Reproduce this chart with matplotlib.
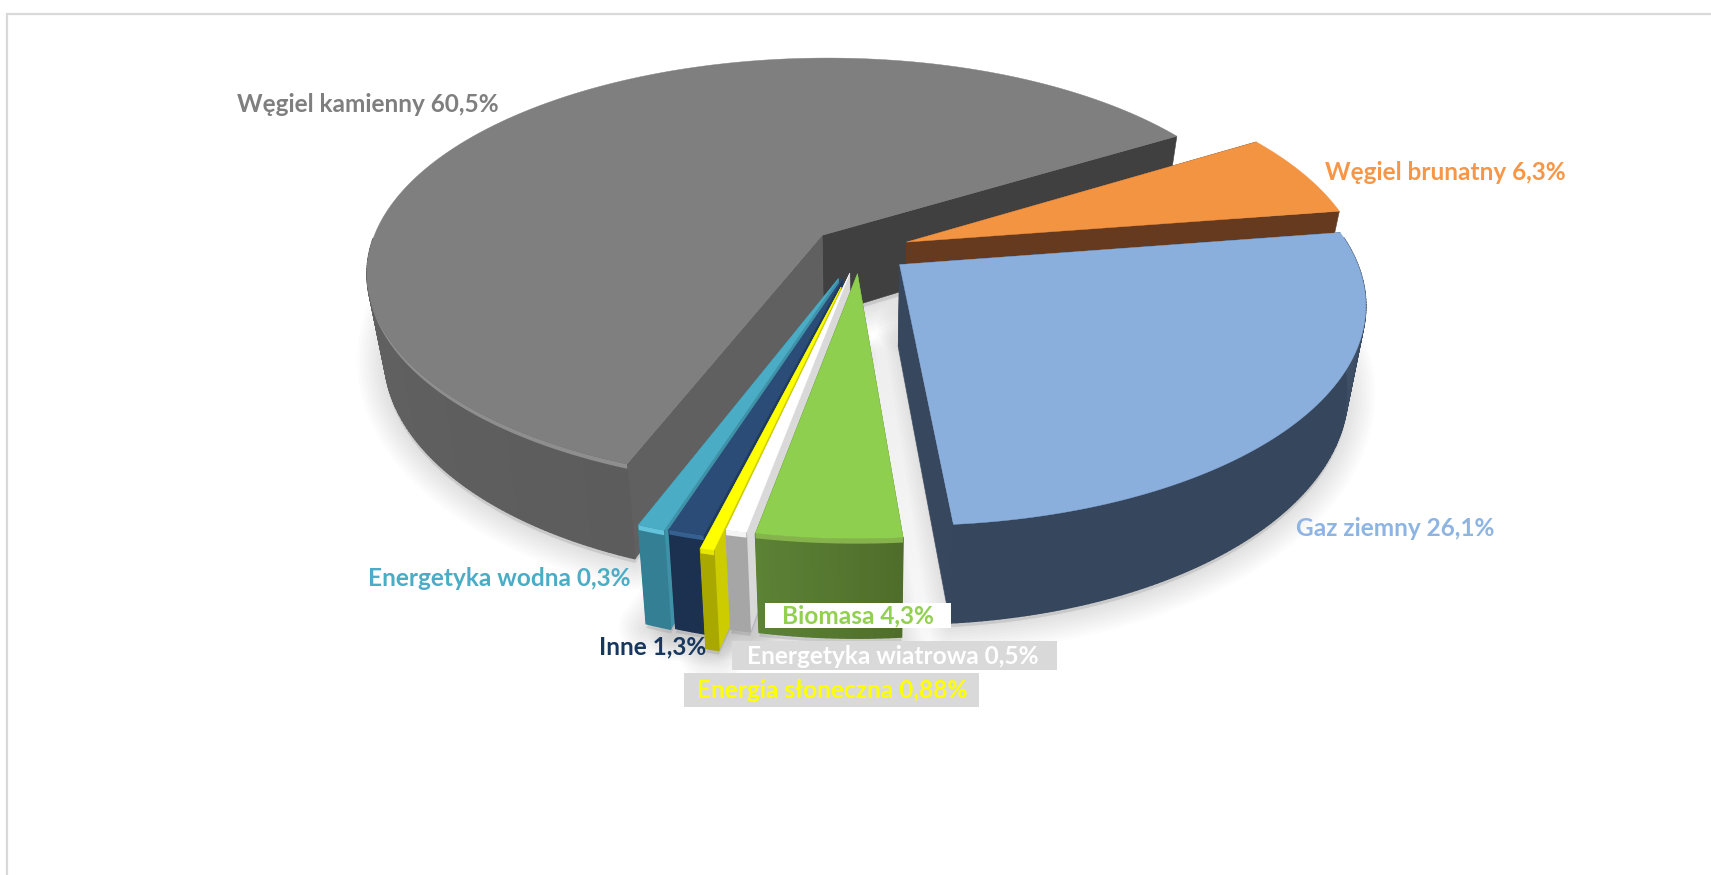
import numpy as np
import matplotlib
matplotlib.use('Agg')
import matplotlib.pyplot as plt
from matplotlib.colors import to_rgb
from matplotlib.patches import Polygon, Rectangle

plt.rcParams['font.family'] = ['Lato', 'DejaVu Sans']

#slices clockwise from the gray one, sizes as drawn (the small labels do not match their slices)
names = ['Węgiel kamienny', 'Węgiel brunatny', 'Gaz ziemny', 'Biomasa',
         'Energetyka wiatrowa', 'Energia słoneczna', 'Inne', 'Energetyka wodna']
label_values = ['60,5%', '6,3%', '26,1%', '4,3%', '0,5%', '0,88%', '1,3%', '0,3%']
shares = [60.5, 6.3, 26.1, 4.25, 0.6, 0.4, 1.05, 0.8]
explode = [0.11, 0.11, 0.11, 0.11, 0.11, 0.175, 0.135, 0.14]

top_colors = ['#7f7f7f', '#f39443', '#8aafdd', '#8fcf50', '#ffffff', '#ffff00', '#2a4c77', '#4aacc5']
text_colors = ['#7f7f7f', '#f79646', '#8db4e2', '#92d050', '#ffffff', '#ffff00', '#17375e', '#4bacc6']
#outer wall colour at the counter clockwise end and at the clockwise end
wall_ccw = ['#5c5c5c', '#663a1e', '#4a5d78', '#4f6d2a', '#a6a6a6', '#a8a800', '#1c304f', '#347f93']
wall_cw = ['#707070', '#663a1e', '#36465c', '#5c8236', '#a6a6a6', '#a8a800', '#1c304f', '#347f93']
#flat cut faces
cut_ccw = ['#606060', '#663a1e', '#37475d', '#5c8236', '#d9d9d9', '#cccc00', '#1f3a5f', '#3e91a6']
cut_cw = ['#404040', '#663a1e', '#37475d', '#5c8236', '#d9d9d9', '#cccc00', '#2f5680', '#3e91a6']
bevel = ['#8e8e8e', None, None, '#86b34c', '#f4f4f4', '#e6e600', '#35608f', '#62c3db']
draw_order = [0, 1, 2, 7, 6, 5, 4, 3]

#label text position in pixels, left edge and centre line
label_x = [237, 1325, 1296, 782, 747, 697, 599, 368]
label_y = [104, 172, 528, 616, 656, 691, 647, 578]
#boxes behind three labels: x0, x1, y0, y1, colour
boxes = [(765, 951, 603, 628, '#ffffff'), (732, 1057, 641, 670, '#d9d9d9'), (684, 979, 673, 707, '#d9d9d9')]

#pie projection, in pixels
cx, cy = 860, 250
rx, ry = 453, 211.6
persp = 0.168
depth = 81
base_shrink = 0.035
start_angle = 249.2


def project(X, Y, z=0.0):
    w = 1 + persp*Y
    return cx + rx*X/w*(1 - z*base_shrink), cy - ry*Y/w + z*depth/w


def mix(c1, c2, t):
    a, b = np.array(to_rgb(c1)), np.array(to_rgb(c2))
    return tuple(a + (b - a)*t)


frac = np.array(shares)/np.sum(shares)*360
#gray starts at the near corner, every slice goes on clockwise from there
a_ccw = []
a_cw = []
cur = start_angle
for i in range(len(frac)):
    a_ccw.append(cur)
    cur = cur - frac[i]
    a_cw.append(cur)

fig = plt.figure(figsize=(17.11, 8.75), dpi=100)
ax = fig.add_axes([0, 0, 1, 1])
ax.set_xlim(0, 1711)
ax.set_ylim(875, 0)
ax.axis('off')

ax.plot([7.5, 7.5, 1711], [875, 14, 14], color='#d9d9d9', lw=1.6, solid_joinstyle='miter')

geo = []
for i in range(len(frac)):
    mid = np.radians((a_ccw[i] + a_cw[i])/2)
    ox, oy = explode[i]*np.cos(mid), explode[i]*np.sin(mid)
    t = np.radians(np.linspace(a_cw[i], a_ccw[i], max(int(frac[i]*1.5), 4)))
    geo.append((ox, oy, t, ox + np.cos(t), oy + np.sin(t)))

#soft shadow under the pie
for ox, oy, t, X, Y in geo:
    sx, sy = project(np.r_[ox, X], np.r_[oy, Y], 1.0)
    pts = np.c_[sx, sy + 4]
    for lw in np.arange(3, 40, 4):
        ax.add_patch(Polygon(pts, closed=True, fc='#707070', ec='#707070', lw=lw, alpha=0.02,
                             joinstyle='round', zorder=1))

z = 2
for i in draw_order:
    ox, oy, t, X, Y = geo[i]
    #cut faces, far one first
    faces = [(X[0], Y[0], cut_cw[i]), (X[-1], Y[-1], cut_ccw[i])]
    faces.sort(key=lambda f: -f[1])
    for xe, ye, col in faces:
        x0, y0 = project(ox, oy, 0)
        x1, y1 = project(xe, ye, 0)
        x2, y2 = project(xe, ye, 1)
        x3, y3 = project(ox, oy, 1)
        ax.add_patch(Polygon([(x0, y0), (x1, y1), (x2, y2), (x3, y3)], fc=col, ec=col, lw=0.4, zorder=z))
        z += 1
    #outer wall strips
    for j in range(len(t) - 1):
        if Y[j] > 0.05 and Y[j + 1] > 0.05:
            continue
        pos = (np.degrees(t[j]) - a_cw[i])/(a_ccw[i] - a_cw[i])
        if i == 2:
            col = mix(wall_ccw[i], wall_cw[i], min(1, (1 - pos)*3.2))
        else:
            col = mix(wall_cw[i], wall_ccw[i], pos)
        xa, ya = project(X[j:j + 2], Y[j:j + 2], 0)
        xb, yb = project(X[j:j + 2], Y[j:j + 2], 1)
        ax.add_patch(Polygon(np.c_[np.r_[xa, xb[::-1]], np.r_[ya, yb[::-1]]], fc=col, ec=col, lw=1.0, zorder=z))
    z += 1
    #rim highlight, a band right under the top face
    if bevel[i] is not None:
        front = Y < 0.05
        xa, ya = project(X[front], Y[front], 0)
        xb, yb = project(X[front], Y[front], 0.05)
        ax.add_patch(Polygon(np.c_[np.r_[xa, xb[::-1]], np.r_[ya, yb[::-1]]], fc=bevel[i], ec='none', zorder=z))
        z += 1
    #top face
    sx, sy = project(np.r_[ox, X], np.r_[oy, Y], 0)
    ax.add_patch(Polygon(np.c_[sx, sy], fc=top_colors[i], ec=top_colors[i], lw=0.3, zorder=z))
    z += 1

z += 1
for x0, x1, y0, y1, col in boxes:
    ax.add_patch(Rectangle((x0, y0), x1 - x0, y1 - y0, fc=col, ec='none', zorder=z))
z += 1
for i in range(len(names)):
    ax.text(label_x[i], label_y[i], names[i] + ' ' + label_values[i], color=text_colors[i],
            fontsize=17.6, fontweight='bold', ha='left', va='center', zorder=z)

fig.savefig('out.png', dpi=100)
